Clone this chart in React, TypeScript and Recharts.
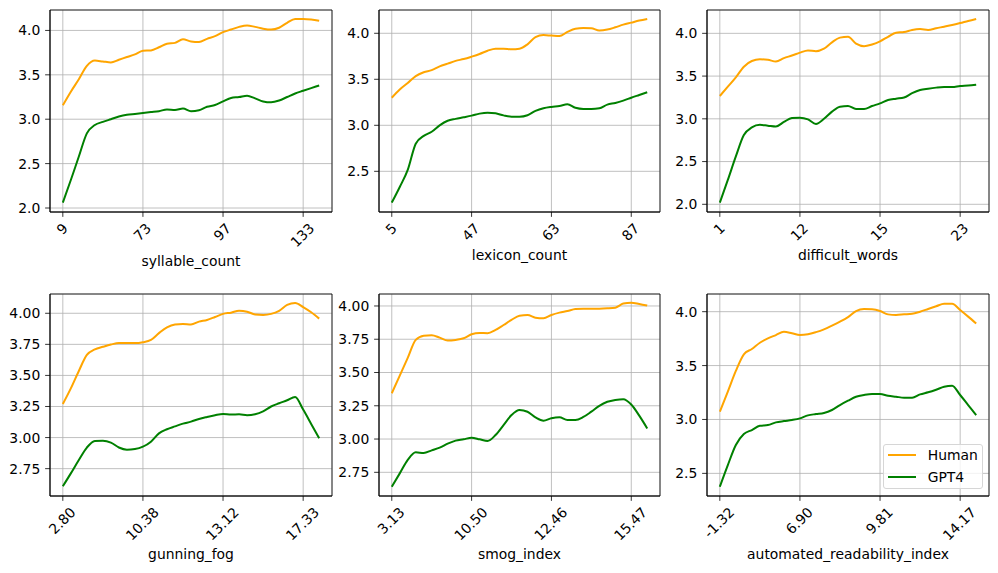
import React from 'react';
import { LineChart, Line, XAxis, YAxis, CartesianGrid, Legend, ReferenceArea } from 'recharts';

const FS = 13.9;
const FONT = '"DejaVu Sans", sans-serif';
const HUMAN_COLOR = '#FFA500';
const GPT_COLOR = '#008000';

// x tick positions (category index) and labels
const tickIdx = [0, 10, 20, 30];
const xDomain: [number, number] = [-1.6, 33.6];

const syllableTicks = ['9', '73', '97', '133'];
const lexiconTicks = ['5', '47', '63', '87'];
const difficultTicks = ['1', '12', '15', '23'];
const gunningTicks = ['2.80', '10.38', '13.12', '17.33'];
const smogTicks = ['3.13', '10.50', '12.46', '15.47'];
const ariTicks = ['-1.32', '6.90', '9.81', '14.17'];

const syllableHuman = [3.156, 3.31, 3.45, 3.6, 3.66, 3.65, 3.64, 3.67, 3.7, 3.73, 3.77, 3.775, 3.81, 3.85, 3.86, 3.9, 3.876, 3.87, 3.905, 3.935, 3.98, 4.01, 4.04, 4.056, 4.04, 4.02, 4.01, 4.03, 4.086, 4.13, 4.13, 4.124, 4.11];
const syllableGPT4 = [2.06, 2.315, 2.58, 2.84, 2.935, 2.97, 3.0, 3.03, 3.05, 3.06, 3.07, 3.08, 3.09, 3.11, 3.105, 3.12, 3.09, 3.1, 3.14, 3.16, 3.2, 3.24, 3.25, 3.265, 3.235, 3.2, 3.19, 3.21, 3.25, 3.29, 3.32, 3.35, 3.38];

const lexiconHuman = [3.3, 3.39, 3.46, 3.535, 3.576, 3.6, 3.64, 3.67, 3.7, 3.72, 3.746, 3.775, 3.81, 3.833, 3.833, 3.826, 3.833, 3.88, 3.957, 3.98, 3.975, 3.97, 4.015, 4.05, 4.058, 4.055, 4.03, 4.04, 4.065, 4.094, 4.116, 4.138, 4.156];
const lexiconGPT4 = [2.16, 2.33, 2.515, 2.8, 2.885, 2.93, 3.0, 3.05, 3.07, 3.087, 3.105, 3.127, 3.137, 3.13, 3.108, 3.094, 3.094, 3.11, 3.156, 3.185, 3.2, 3.21, 3.228, 3.19, 3.177, 3.177, 3.185, 3.225, 3.243, 3.268, 3.3, 3.33, 3.36];

const difficultHuman = [3.267, 3.376, 3.485, 3.61, 3.676, 3.696, 3.69, 3.67, 3.71, 3.74, 3.774, 3.8, 3.79, 3.82, 3.895, 3.95, 3.96, 3.88, 3.85, 3.87, 3.906, 3.96, 4.008, 4.015, 4.04, 4.05, 4.04, 4.06, 4.078, 4.097, 4.12, 4.145, 4.168];
const difficultGPT4 = [2.02, 2.285, 2.56, 2.81, 2.9, 2.93, 2.92, 2.91, 2.963, 3.01, 3.014, 2.994, 2.94, 3.0, 3.084, 3.142, 3.15, 3.115, 3.115, 3.15, 3.18, 3.22, 3.236, 3.25, 3.3, 3.337, 3.353, 3.365, 3.372, 3.372, 3.384, 3.39, 3.4];

const gunningHuman = [3.27, 3.396, 3.536, 3.665, 3.71, 3.73, 3.748, 3.76, 3.76, 3.76, 3.767, 3.785, 3.84, 3.887, 3.91, 3.914, 3.91, 3.933, 3.946, 3.97, 3.995, 4.005, 4.02, 4.013, 3.99, 3.987, 3.995, 4.02, 4.067, 4.083, 4.05, 4.008, 3.957];
const gunningGPT4 = [2.608, 2.712, 2.82, 2.92, 2.973, 2.975, 2.96, 2.92, 2.903, 2.908, 2.927, 2.967, 3.034, 3.067, 3.09, 3.112, 3.128, 3.15, 3.166, 3.18, 3.19, 3.185, 3.187, 3.18, 3.187, 3.21, 3.25, 3.276, 3.3, 3.327, 3.225, 3.11, 2.994];

const smogHuman = [3.344, 3.476, 3.61, 3.745, 3.777, 3.78, 3.762, 3.74, 3.745, 3.757, 3.787, 3.797, 3.795, 3.82, 3.857, 3.895, 3.927, 3.932, 3.912, 3.907, 3.932, 3.95, 3.962, 3.977, 3.98, 3.98, 3.98, 3.982, 3.987, 4.018, 4.025, 4.015, 4.003];
const smogGPT4 = [2.642, 2.742, 2.843, 2.9, 2.895, 2.915, 2.935, 2.965, 2.988, 2.998, 3.01, 2.998, 2.985, 3.03, 3.105, 3.18, 3.218, 3.205, 3.163, 3.138, 3.156, 3.163, 3.143, 3.143, 3.166, 3.206, 3.25, 3.28, 3.294, 3.3, 3.26, 3.176, 3.08];

const ariHuman = [3.072, 3.258, 3.45, 3.604, 3.654, 3.712, 3.752, 3.783, 3.814, 3.8, 3.783, 3.79, 3.81, 3.836, 3.87, 3.907, 3.95, 4.006, 4.025, 4.022, 4.006, 3.975, 3.97, 3.975, 3.98, 4.0, 4.025, 4.05, 4.074, 4.074, 4.015, 3.954, 3.89];
const ariGPT4 = [2.376, 2.577, 2.763, 2.865, 2.902, 2.942, 2.948, 2.973, 2.985, 2.995, 3.01, 3.038, 3.05, 3.06, 3.088, 3.134, 3.174, 3.211, 3.227, 3.236, 3.236, 3.22, 3.211, 3.202, 3.202, 3.233, 3.252, 3.276, 3.304, 3.313, 3.227, 3.134, 3.041];

const yTicks1 = [2.0, 2.5, 3.0, 3.5, 4.0];
const yTicks2 = [2.5, 3.0, 3.5, 4.0];
const yTicks4 = [2.75, 3.0, 3.25, 3.5, 3.75, 4.0];

const seriesOrder = ['Human', 'GPT4'];

type Cfg = {
  xlabel: string;
  ticks: string[];
  human: number[];
  gpt: number[];
  yDomain: [number, number];
  yTicks: number[];
  dec: number;
};

const panels: Cfg[] = [
  { xlabel: 'syllable_count', ticks: syllableTicks, human: syllableHuman, gpt: syllableGPT4, yDomain: [1.955, 4.23], yTicks: yTicks1, dec: 1 },
  { xlabel: 'lexicon_count', ticks: lexiconTicks, human: lexiconHuman, gpt: lexiconGPT4, yDomain: [2.058, 4.253], yTicks: yTicks2, dec: 1 },
  { xlabel: 'difficult_words', ticks: difficultTicks, human: difficultHuman, gpt: difficultGPT4, yDomain: [1.91, 4.273], yTicks: yTicks1, dec: 1 },
  { xlabel: 'gunning_fog', ticks: gunningTicks, human: gunningHuman, gpt: gunningGPT4, yDomain: [2.53, 4.155], yTicks: yTicks4, dec: 2 },
  { xlabel: 'smog_index', ticks: smogTicks, human: smogHuman, gpt: smogGPT4, yDomain: [2.572, 4.09], yTicks: yTicks4, dec: 2 },
  { xlabel: 'automated_readability_index', ticks: ariTicks, human: ariHuman, gpt: ariGPT4, yDomain: [2.29, 4.164], yTicks: yTicks2, dec: 1 },
];

// layout (plot-area rectangles in page pixels)
const layouts = [
  { x: 50, y: 10, w: 282, h: 202 },
  { x: 379, y: 10, w: 281, h: 202 },
  { x: 707, y: 10, w: 282, h: 202 },
  { x: 50, y: 294, w: 282, h: 202 },
  { x: 379, y: 294, w: 281, h: 202 },
  { x: 707, y: 294, w: 282, h: 202 },
];

const YW = 50;
const TM = 10;
const RM = 10;
const XH = 80;
const TICK = 4.86;
const PAD = 4.86;

const CHAR_W: Record<string, number> = { '.': 0.318, '-': 0.361 };
function textWidth(s: string) {
  return s.split('').reduce((a, c) => a + (CHAR_W[c] ?? 0.636), 0) * FS;
}

function makeRows(h: number[], g: number[]) {
  return h.map((v, i) => ({ i, human: v, gpt: g[i] }));
}

function XTick(props: any) {
  const { x, y, payload, labels } = props;
  const k = tickIdx.indexOf(payload.value);
  const label = labels[k] ?? '';
  const L = textWidth(label);
  const half = ((L + 0.968 * FS) * 0.7071) / 2;
  const cy = y + PAD + half;
  return (
    <text
      transform={`translate(${x},${cy}) rotate(-45)`}
      textAnchor="middle"
      dy="0.28em"
      fontSize={FS}
      fill="#000"
      fontFamily={FONT}
    >
      {label}
    </text>
  );
}

function renderLegend(props: any) {
  const payload = [...(props.payload || [])].sort(
    (a: any, b: any) => seriesOrder.indexOf(a.value) - seriesOrder.indexOf(b.value)
  );
  return (
    <div
      style={{
        width: 100,
        height: 45,
        boxSizing: 'border-box',
        border: '1px solid #d6d6d6',
        borderRadius: 3,
        background: 'rgba(255,255,255,0.8)',
        position: 'relative',
        fontFamily: FONT,
        fontSize: FS,
        color: '#000',
      }}
    >
      {payload.map((p: any, k: number) => (
        <div key={k} style={{ position: 'absolute', left: 0, top: 10 + k * 22 - 9, height: 18, width: 100 }}>
          <svg width={40} height={18} style={{ position: 'absolute', left: 0, top: 0 }}>
            <line x1={4} x2={32} y1={9} y2={9} stroke={p.color} strokeWidth={2} />
          </svg>
          <span style={{ position: 'absolute', left: 44, top: 0, lineHeight: '18px', whiteSpace: 'nowrap' }}>{p.value}</span>
        </div>
      ))}
    </div>
  );
}

function Panel({ cfg, lay, legend }: { cfg: Cfg; lay: { x: number; y: number; w: number; h: number }; legend?: boolean }) {
  const data = makeRows(cfg.human, cfg.gpt);
  const W = YW + lay.w + RM;
  const H = TM + lay.h + XH;
  const maxL = Math.max(...cfg.ticks.map((t) => textWidth(t)));
  const labelDist = TICK + PAD + (maxL + 0.968 * FS) * 0.7071 + 5.56 + 0.76 * FS;
  const left = lay.x - YW;
  const top = lay.y - TM;
  return (
    <div style={{ position: 'absolute', left, top, width: W, height: H }}>
      <LineChart width={W} height={H} data={data} margin={{ top: TM, right: RM, left: 0, bottom: 0 }}>
        <CartesianGrid stroke="#b0b0b0" strokeWidth={0.8} />
        <XAxis
          dataKey="i"
          type="number"
          domain={xDomain}
          ticks={tickIdx}
          allowDataOverflow
          interval={0}
          height={XH}
          tickSize={TICK}
          tickMargin={0}
          axisLine={{ stroke: '#000', strokeWidth: 0.8 }}
          tickLine={{ stroke: '#000', strokeWidth: 0.8 }}
          tick={(p: any) => <XTick {...p} labels={cfg.ticks} />}
          label={{ value: cfg.xlabel, position: 'insideBottom', offset: XH - labelDist, fill: '#000', fontSize: FS }}
        />
        <YAxis
          type="number"
          domain={cfg.yDomain}
          ticks={cfg.yTicks}
          allowDataOverflow
          interval={0}
          width={YW}
          tickSize={TICK}
          tickMargin={PAD}
          tickFormatter={(v: number) => v.toFixed(cfg.dec)}
          tick={{ fill: '#000', fontSize: FS }}
          axisLine={{ stroke: '#000', strokeWidth: 0.8 }}
          tickLine={{ stroke: '#000', strokeWidth: 0.8 }}
        />
        <ReferenceArea
          x1={xDomain[0]}
          x2={xDomain[1]}
          y1={cfg.yDomain[0]}
          y2={cfg.yDomain[1]}
          fill="none"
          fillOpacity={0}
          stroke="#000"
          strokeWidth={0.8}
          strokeOpacity={1}
          ifOverflow="visible"
        />
        <Line dataKey="human" name="Human" type="monotone" stroke={HUMAN_COLOR} strokeWidth={2} dot={false} isAnimationActive={false} />
        <Line dataKey="gpt" name="GPT4" type="monotone" stroke={GPT_COLOR} strokeWidth={2} dot={false} isAnimationActive={false} />
        {legend ? (
          <Legend
            layout="horizontal"
            verticalAlign="middle"
            align="center"
            content={renderLegend}
            wrapperStyle={{ left: 882.7 - left, top: 444 - top, width: 100, height: 45 }}
          />
        ) : null}
      </LineChart>
    </div>
  );
}

export default function App() {
  return (
    <div style={{ position: 'absolute', left: 0, top: 0, width: 998, height: 573, background: '#fff', fontFamily: FONT }}>
      {panels.map((cfg, k) => (
        <Panel key={k} cfg={cfg} lay={layouts[k]} legend={k === 5} />
      ))}
    </div>
  );
}
